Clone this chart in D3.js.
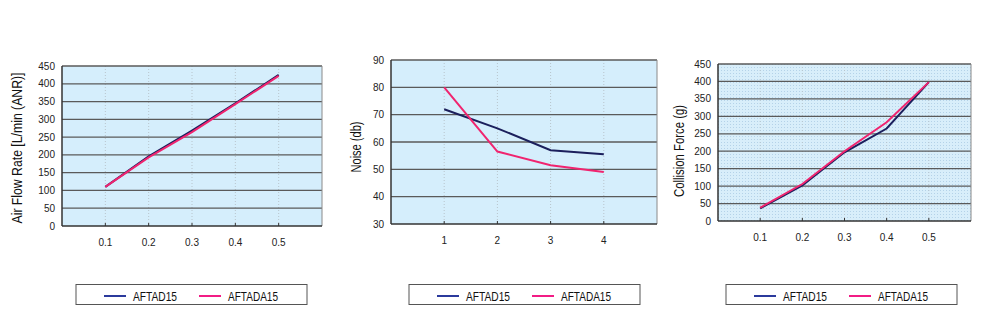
<!DOCTYPE html>
<html>
<head>
<meta charset="utf-8">
<script src="https://cdn.jsdelivr.net/npm/d3@7"></script>
<style>
  body { margin: 0; background: #fff; }
  svg { display: block; }
  .tick-lbl { font-family: "Liberation Sans", Arial, sans-serif; font-size: 10px; fill: #222; }
  .ytitle { font-family: "Liberation Sans Narrow", "Arial Narrow", "Liberation Sans", sans-serif; font-size: 14px; fill: #111; }
  .leg { font-family: "Liberation Sans Narrow", "Arial Narrow", "Liberation Sans", sans-serif; font-size: 12px; fill: #111; }
</style>
</head>
<body>
<div id="chart"></div>
<script>
// --- daten ---
const seriesNames = ["AFTAD15", "AFTADA15"];

const airX = [0.1, 0.2, 0.3, 0.4, 0.5];
const airTad = [110, 196, 268, 345, 425];
const airTada = [110, 193, 264, 343, 422];
const airYTicks = [0, 50, 100, 150, 200, 250, 300, 350, 400, 450];

const noiseX = [1, 2, 3, 4];
const noiseTad = [72, 65, 57, 55.5];
const noiseTada = [80, 56.5, 51.5, 49];
const noiseYTicks = [30, 40, 50, 60, 70, 80, 90];

const forceX = [0.1, 0.2, 0.3, 0.4, 0.5];
const forceTad = [36, 102, 197, 265, 398];
const forceTada = [38, 106, 200, 283, 398];
const forceYTicks = [0, 50, 100, 150, 200, 250, 300, 350, 400, 450];

const svg = d3.select("#chart").append("svg")
  .attr("width", 982).attr("height", 315);

// Punktmuster für das dritte Diagramm
const defs = svg.append("defs");
const pat = defs.append("pattern").attr("id", "dots")
  .attr("width", 3).attr("height", 3).attr("patternUnits", "userSpaceOnUse");
pat.append("rect").attr("width", 3).attr("height", 3).attr("fill", "#d8eefa");
pat.append("rect").attr("x", 1).attr("y", 1).attr("width", 1).attr("height", 1).attr("fill", "#b4d2e8");

function drawChart(cfg) {
  const x = d3.scaleLinear().domain(cfg.xDomain).range([cfg.left, cfg.right]);
  const y = d3.scaleLinear().domain(cfg.yDomain).range([cfg.bottom, cfg.top]);
  const g = svg.append("g");

  g.append("rect")
    .attr("x", cfg.left).attr("y", cfg.top)
    .attr("width", cfg.right - cfg.left).attr("height", cfg.bottom - cfg.top)
    .attr("fill", cfg.fill);

  // vertikale gepunktete Linien an den x-Ticks
  g.selectAll(".vgrid").data(cfg.xVals).join("line")
    .attr("x1", d => x(d)).attr("x2", d => x(d))
    .attr("y1", cfg.top).attr("y2", cfg.bottom)
    .attr("stroke", "#b8c4cc").attr("stroke-width", 1)
    .attr("stroke-dasharray", "1,2");

  // horizontale Gitterlinien
  g.selectAll(".hgrid").data(cfg.yTicks.slice(1)).join("line")
    .attr("x1", cfg.left).attr("x2", cfg.right)
    .attr("y1", d => y(d)).attr("y2", d => y(d))
    .attr("stroke", "#5a5a5a").attr("stroke-width", 1.3);

  // Rahmen
  g.append("line").attr("x1", cfg.right).attr("x2", cfg.right)
    .attr("y1", cfg.top).attr("y2", cfg.bottom).attr("stroke", "#8a8a8a");
  g.append("line").attr("x1", cfg.left).attr("x2", cfg.left)
    .attr("y1", cfg.top).attr("y2", cfg.bottom).attr("stroke", "#333").attr("stroke-width", 1.5);
  g.append("line").attr("x1", cfg.left).attr("x2", cfg.right)
    .attr("y1", cfg.bottom).attr("y2", cfg.bottom).attr("stroke", "#333").attr("stroke-width", 1.5);

  // Achsenbeschriftungen
  g.selectAll(".ylbl").data(cfg.yTicks).join("text")
    .attr("class", "tick-lbl")
    .attr("x", cfg.left - 7).attr("y", d => y(d) + 3.5)
    .attr("text-anchor", "end")
    .text(d => d);

  g.selectAll(".xtk").data(cfg.xVals).join("line")
    .attr("x1", d => x(d)).attr("x2", d => x(d))
    .attr("y1", cfg.bottom - 3).attr("y2", cfg.bottom)
    .attr("stroke", "#333");

  g.selectAll(".xlbl").data(cfg.xVals).join("text")
    .attr("class", "tick-lbl")
    .attr("x", d => x(d)).attr("y", cfg.bottom + 20)
    .attr("text-anchor", "middle")
    .text(d => d);

  // schmale Schrift nachbilden: Textlänge vorgeben
  g.append("text").attr("class", "ytitle")
    .attr("transform", `translate(${cfg.titleX}, ${cfg.titleY}) rotate(-90)`)
    .attr("text-anchor", "middle")
    .attr("textLength", cfg.titleLen).attr("lengthAdjust", "spacingAndGlyphs")
    .text(cfg.title);

  const line = d3.line().x((d, i) => x(cfg.xVals[i])).y(d => y(d));
  g.append("path").datum(cfg.a).attr("d", line)
    .attr("fill", "none").attr("stroke", "#1b1f5c").attr("stroke-width", 2);
  g.append("path").datum(cfg.b).attr("d", line)
    .attr("fill", "none").attr("stroke", "#f0246f").attr("stroke-width", 2);

  // Legende
  const lg = g.append("g");
  lg.append("rect")
    .attr("x", cfg.legX).attr("y", 284.5)
    .attr("width", 231).attr("height", 20)
    .attr("fill", "#fff").attr("stroke", "#555").attr("stroke-width", 1);
  const cols = ["#2b3a9c", "#f21c85"];
  const lens = [44, 50];
  seriesNames.forEach((name, i) => {
    const ox = cfg.legX + 28 + i * 95;
    lg.append("line").attr("x1", ox).attr("x2", ox + 22)
      .attr("y1", 296).attr("y2", 296)
      .attr("stroke", cols[i]).attr("stroke-width", 2);
    lg.append("text").attr("class", "leg")
      .attr("x", ox + 29).attr("y", 300.5)
      .attr("textLength", lens[i]).attr("lengthAdjust", "spacingAndGlyphs")
      .text(name);
  });
}

drawChart({
  left: 62, right: 322, top: 66, bottom: 226,
  xDomain: [0, 0.6], yDomain: [0, 450],
  xVals: airX, yTicks: airYTicks, a: airTad, b: airTada,
  fill: "#d5eefc", title: "Air Flow Rate [L/min (ANR)]",
  titleX: 22, titleY: 148, titleLen: 151, legX: 76
});

drawChart({
  left: 391, right: 657, top: 60, bottom: 224,
  xDomain: [0, 5], yDomain: [30, 90],
  xVals: noiseX, yTicks: noiseYTicks, a: noiseTad, b: noiseTada,
  fill: "#d5eefc", title: "Noise (db)",
  titleX: 361, titleY: 147, titleLen: 51, legX: 409
});

drawChart({
  left: 718, right: 971, top: 64, bottom: 221,
  xDomain: [0, 0.6], yDomain: [0, 450],
  xVals: forceX, yTicks: forceYTicks, a: forceTad, b: forceTada,
  fill: "url(#dots)", title: "Collision Force (g)",
  titleX: 684, titleY: 151, titleLen: 92, legX: 726
});
</script>
</body>
</html>
